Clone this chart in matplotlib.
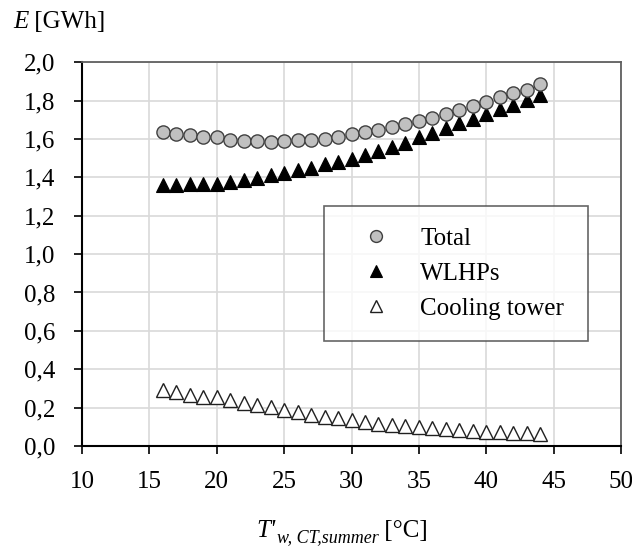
import matplotlib
matplotlib.use('Agg')

import matplotlib.pyplot as plt
from matplotlib.ticker import FuncFormatter, MultipleLocator

plt.rcParams["font.family"] = ["Liberation Serif", "DejaVu Serif"]

# cooling tower summer water temperature [°C]
t_water = list(range(16, 45))

# annual electricity use [GWh]
e_total = [1.638, 1.628, 1.620, 1.610, 1.610, 1.597, 1.590, 1.587, 1.583, 1.587,
           1.592, 1.597, 1.602, 1.610, 1.628, 1.635, 1.648, 1.663, 1.676, 1.693,
           1.707, 1.728, 1.749, 1.771, 1.794, 1.818, 1.837, 1.853, 1.884]
e_wlhp = [1.362, 1.362, 1.363, 1.365, 1.367, 1.378, 1.388, 1.399, 1.410, 1.420,
          1.438, 1.450, 1.467, 1.481, 1.498, 1.516, 1.538, 1.558, 1.580, 1.608,
          1.633, 1.657, 1.682, 1.706, 1.730, 1.755, 1.779, 1.803, 1.830]
e_tower = [0.290, 0.280, 0.268, 0.258, 0.256, 0.240, 0.226, 0.214, 0.202, 0.188,
           0.175, 0.162, 0.152, 0.144, 0.134, 0.124, 0.117, 0.110, 0.106, 0.101,
           0.095, 0.091, 0.085, 0.079, 0.075, 0.071, 0.068, 0.066, 0.062]

fig = plt.figure(figsize=(6.32, 5.5), dpi=100)
ax = fig.add_axes([0.1297, 0.189, 0.853, 0.698])

ax.plot(t_water, e_total, ls="none", marker="o", ms=9.5, mfc="#c0c0c0",
        mec="#404040", mew=1.0, label="Total", zorder=4)
ax.plot(t_water, e_wlhp, ls="none", marker="^", ms=10, mfc="black",
        mec="black", mew=0.8, label="WLHPs", zorder=3)
ax.plot(t_water, e_tower, ls="none", marker="^", ms=10, mfc="white",
        mec="#202020", mew=1.0, label="Cooling tower", zorder=3)

ax.set_xlim(10, 50)
ax.set_ylim(0, 2.0)
ax.xaxis.set_major_locator(MultipleLocator(5))
ax.yaxis.set_major_locator(MultipleLocator(0.2))
ax.yaxis.set_major_formatter(FuncFormatter(lambda v, p: f"{v:.1f}".replace(".", ",")))
ax.grid(True, color="#d9d9d9", lw=1.2)
ax.set_axisbelow(True)

ax.tick_params(axis="both", direction="out", length=6, width=1.2, labelsize=18,
               color="black")
ax.tick_params(axis="y", pad=13)
ax.tick_params(axis="x", pad=12)
for side in ("left", "bottom"):
    ax.spines[side].set_color("black")
    ax.spines[side].set_linewidth(1.5)
for side in ("top", "right"):
    ax.spines[side].set_color("#606060")
    ax.spines[side].set_linewidth(1.3)

leg = ax.legend(loc="upper left", bbox_to_anchor=(0.449, 0.289, 0.49, 0.336),
                mode="expand", fontsize=18, frameon=True, fancybox=False,
                markerscale=0.9, handlelength=2.48, handletextpad=0.52,
                borderpad=0.85, labelspacing=0.5, borderaxespad=0)
leg.get_frame().set_edgecolor("#404040")
leg.get_frame().set_linewidth(1.2)

# axis captions
yl = fig.text(13 / 632, 1 - 22 / 550, "E", fontsize=18, style="italic",
              va="center", ha="left")
ax.annotate(" [GWh]", xy=(1, 0), xycoords=yl, va="bottom", ha="left", fontsize=18)

t1 = fig.text(256 / 632, 1 - 537 / 550, "T'", fontsize=18, style="italic",
              va="baseline", ha="left")
t2 = ax.annotate("w, CT,summer", xy=(1, 0), xycoords=t1, xytext=(1, -3),
                 textcoords="offset points", va="bottom", ha="left",
                 fontsize=13, style="italic")
ax.annotate(" [°C]", xy=(1, 0), xycoords=t2, xytext=(0, 3),
            textcoords="offset points", va="bottom", ha="left", fontsize=18)

fig.savefig("out.png", dpi=100, facecolor="white")
